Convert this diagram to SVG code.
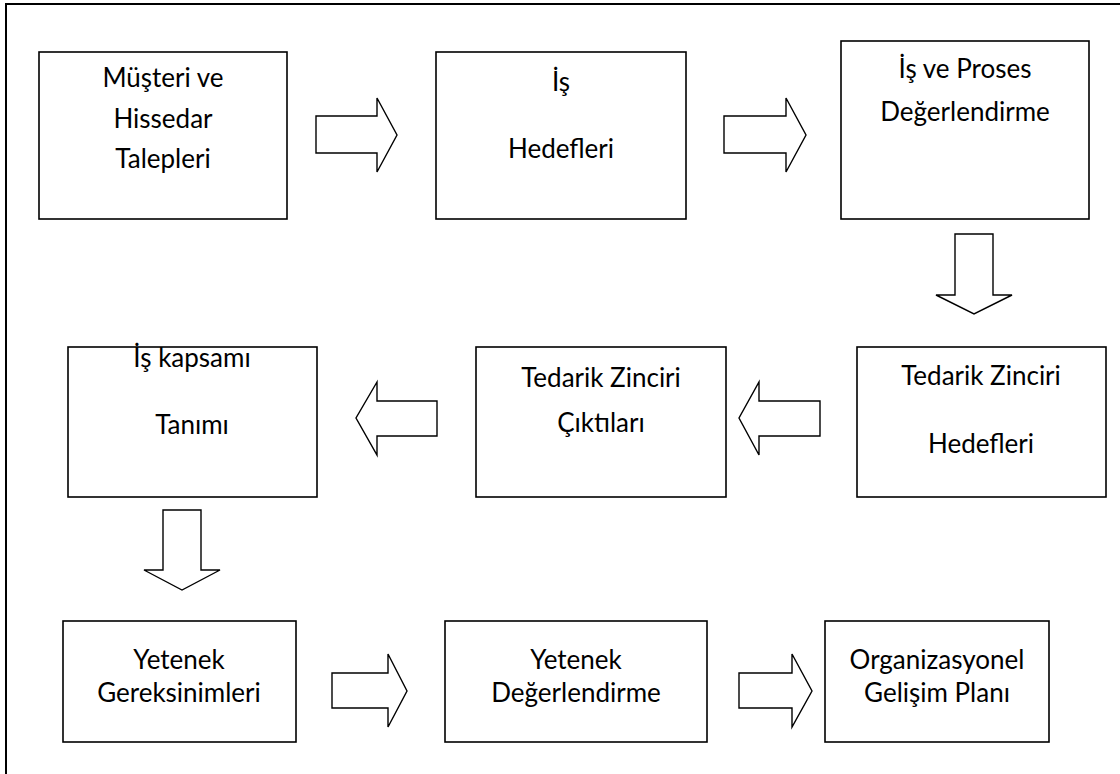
<svg xmlns="http://www.w3.org/2000/svg" width="1120" height="774" viewBox="0 0 1120 774">
  <style>
    .frame { fill: none; stroke: #000; stroke-width: 2; }
    .box { fill: #fff; stroke: #000; stroke-width: 1.6; }
    .arrow { fill: #fff; stroke: #000; stroke-width: 1.4; stroke-linejoin: miter; }
    text { font-family: Lato, "Open Sans", "Liberation Sans", sans-serif; font-size: 26px; fill: #000; text-anchor: middle; }
  </style>
  <rect width="1120" height="774" fill="#fff"/>
  <!-- outer frame (runs off the right and bottom edges) -->
  <rect class="frame" x="6" y="4" width="1300" height="900"/>

  <g id="connectors">
    <polygon class="arrow" points="316,116 377,116 377,98 397,135 377,172 377,153 316,153"/>
    <polygon class="arrow" points="724,116 786,116 786,98 806,135 786,172 786,153 724,153"/>
    <polygon class="arrow" points="955,234 993,234 993,295 1012,295 974,314 936,295 955,295"/>
    <polygon class="arrow" points="820,401 759,401 759,382 739,418 759,455 759,436 820,436"/>
    <polygon class="arrow" points="437,401 377,401 377,382 356,418 377,455 377,436 437,436"/>
    <polygon class="arrow" points="163,510 201,510 201,570 220,570 182,590 144,570 163,570"/>
    <polygon class="arrow" points="332,673 388,673 388,654 407,691 388,727 388,708 332,708"/>
    <polygon class="arrow" points="739,673 792,673 792,654 812,691 792,727 792,708 739,708"/>
  </g>

  <g id="musteri-talepleri">
    <rect class="box" x="39" y="52" width="248" height="167"/>
    <text x="163" y="87">Müşteri ve</text>
    <text x="163" y="128">Hissedar</text>
    <text x="163" y="168">Talepleri</text>
  </g>

  <g id="is-hedefleri">
    <rect class="box" x="436" y="52" width="250" height="167"/>
    <text x="561" y="91">İş</text>
    <text x="561" y="158">Hedefleri</text>
  </g>

  <g id="is-proses-degerlendirme">
    <rect class="box" x="841" y="41" width="248" height="178"/>
    <text x="965" y="78">İş ve Proses</text>
    <text x="965" y="121">Değerlendirme</text>
  </g>

  <g id="tedarik-hedefleri">
    <rect class="box" x="857" y="347" width="249" height="150"/>
    <text x="981" y="385">Tedarik Zinciri</text>
    <text x="981" y="453">Hedefleri</text>
  </g>

  <g id="tedarik-ciktilari">
    <rect class="box" x="476" y="347" width="250" height="150"/>
    <text x="601" y="387">Tedarik Zinciri</text>
    <text x="601" y="432">Çıktıları</text>
  </g>

  <g id="is-kapsami-tanimi">
    <rect class="box" x="68" y="347" width="249" height="150"/>
    <text x="192" y="367">İş kapsamı</text>
    <text x="192" y="434">Tanımı</text>
  </g>

  <g id="yetenek-gereksinimleri">
    <rect class="box" x="63" y="621" width="233" height="121"/>
    <text x="179" y="669">Yetenek</text>
    <text x="179" y="702">Gereksinimleri</text>
  </g>

  <g id="yetenek-degerlendirme">
    <rect class="box" x="445" y="621" width="262" height="121"/>
    <text x="576" y="669">Yetenek</text>
    <text x="576" y="702">Değerlendirme</text>
  </g>

  <g id="organizasyonel-gelisim">
    <rect class="box" x="825" y="621" width="224" height="121"/>
    <text x="937" y="669">Organizasyonel</text>
    <text x="937" y="702">Gelişim Planı</text>
  </g>
</svg>
